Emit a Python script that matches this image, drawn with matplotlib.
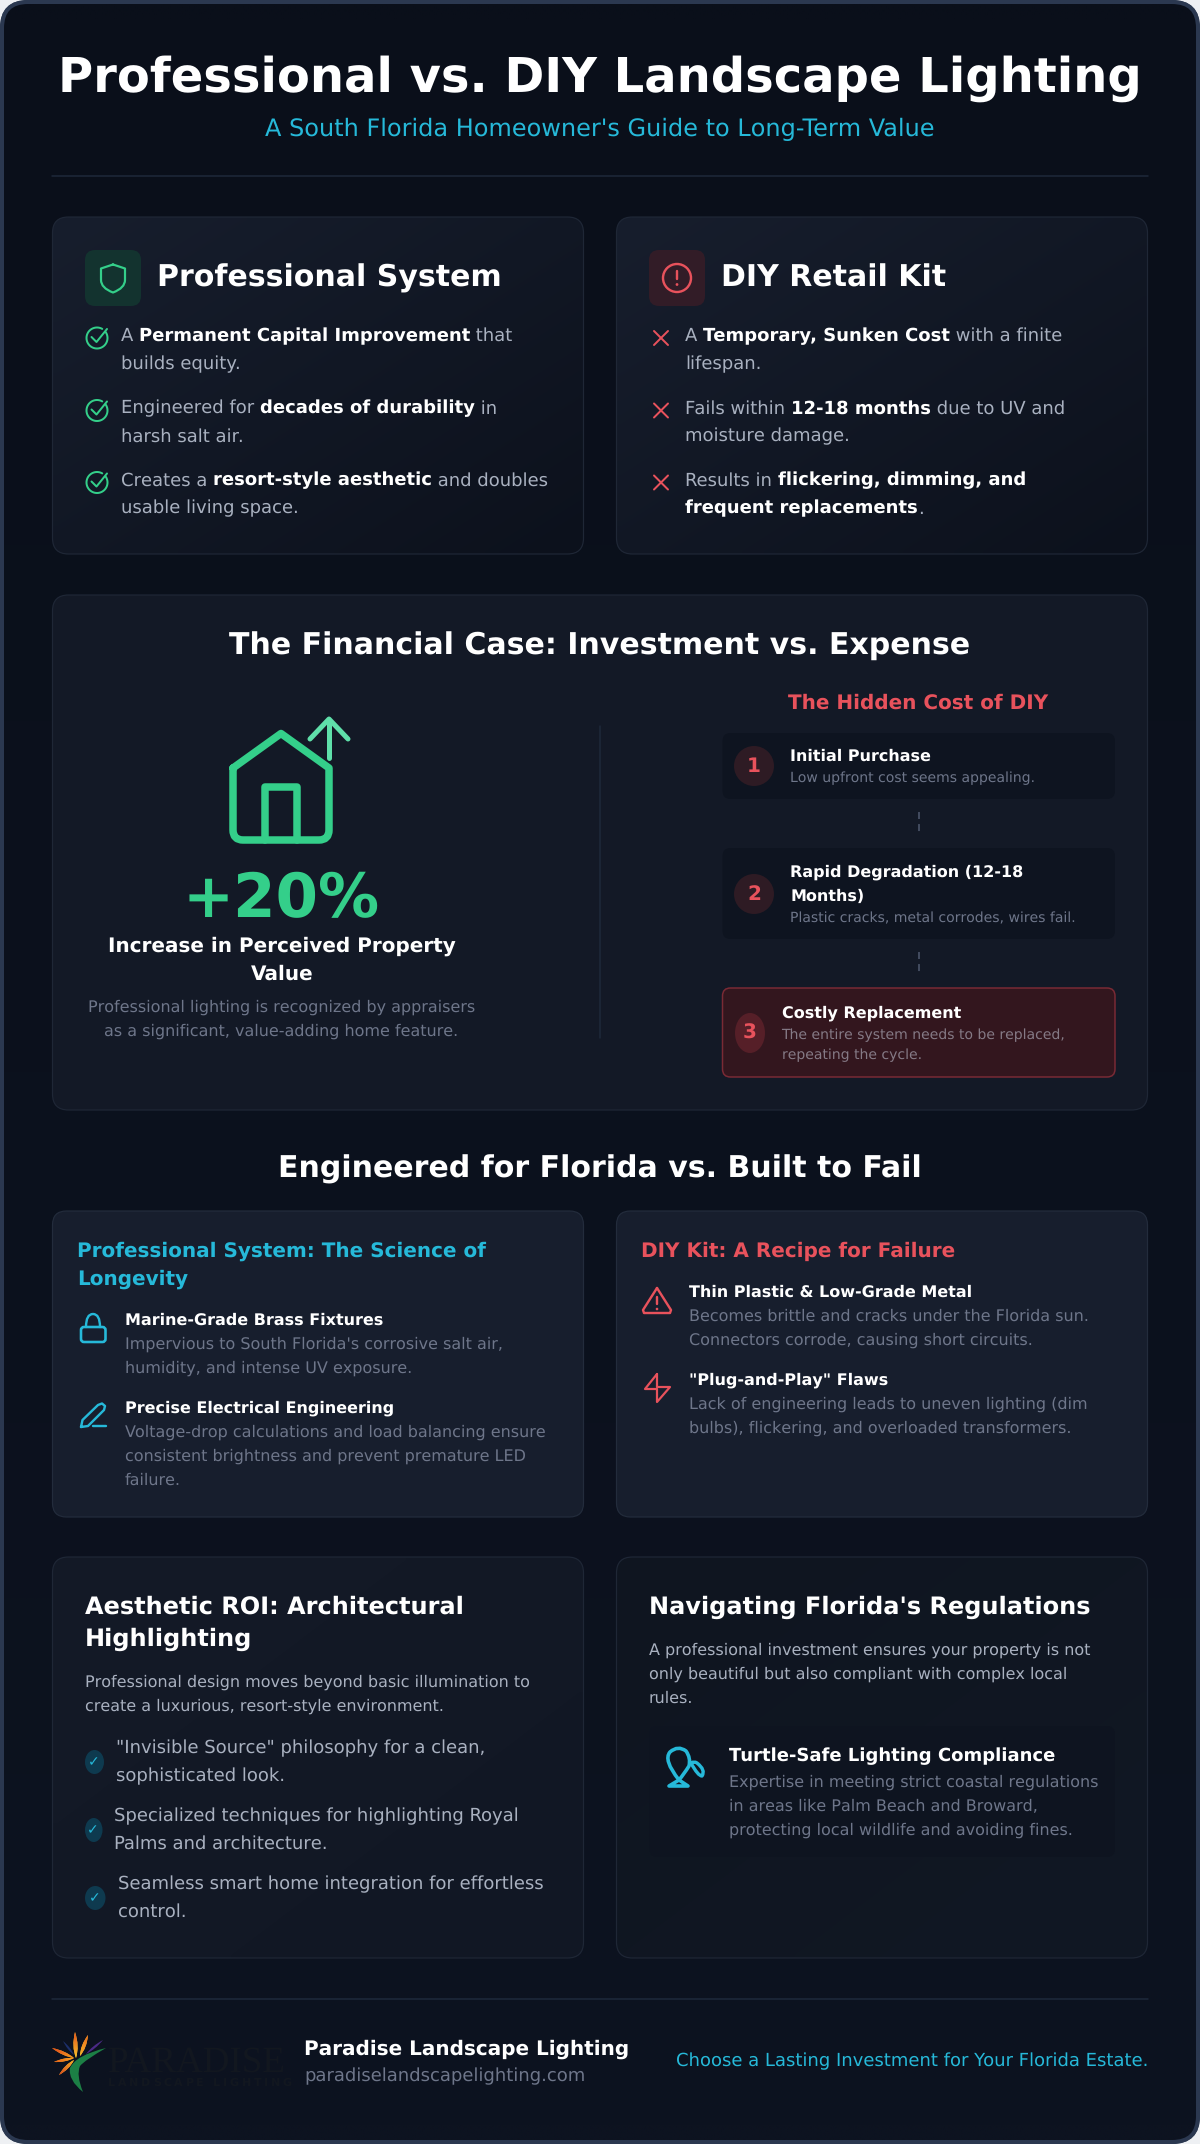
import numpy as np
import matplotlib
matplotlib.use('Agg')
import matplotlib.pyplot as plt
from matplotlib.patches import FancyBboxPatch, Circle, Ellipse, PathPatch
from matplotlib.path import Path

plt.rcParams['font.family'] = ['DejaVu Sans']
plt.rcParams['text.hinting'] = 'no_hinting'
plt.rcParams['text.hinting_factor'] = 1

# Text content
title = "Professional vs. DIY Landscape Lighting"
subtitle = "A South Florida Homeowner's Guide to Long-Term Value"
pro_heading = "Professional System"
diy_heading = "DIY Retail Kit"
pro_list = [
    [[("A ", 0), ("Permanent Capital Improvement", 1), (" that", 0)], [("builds equity.", 0)]],
    [[("Engineered for ", 0), ("decades of durability", 1), (" in", 0)], [("harsh salt air.", 0)]],
    [[("Creates a ", 0), ("resort-style aesthetic", 1), (" and doubles", 0)], [("usable living space.", 0)]],
]
diy_list = [
    [[("A ", 0), ("Temporary, Sunken Cost", 1), (" with a finite", 0)], [("lifespan.", 0)]],
    [[("Fails within ", 0), ("12-18 months", 1), (" due to UV and", 0)], [("moisture damage.", 0)]],
    [[("Results in ", 0), ("flickering, dimming, and", 1)], [("frequent replacements", 1), (".", 0)]],
]
fin_heading = "The Financial Case: Investment vs. Expense"
stat_value = "+20%"
stat_label = ["Increase in Perceived Property", "Value"]
stat_desc = ["Professional lighting is recognized by appraisers", "as a significant, value-adding home feature."]
hidden_heading = "The Hidden Cost of DIY"
step_titles = [["Initial Purchase"], ["Rapid Degradation (12-18", "Months)"], ["Costly Replacement"]]
step_subs = [["Low upfront cost seems appealing."],
             ["Plastic cracks, metal corrodes, wires fail."],
             ["The entire system needs to be replaced,", "repeating the cycle."]]
eng_heading = "Engineered for Florida vs. Built to Fail"
sci_heading = ["Professional System: The Science of", "Longevity"]
sci_titles = ["Marine-Grade Brass Fixtures", "Precise Electrical Engineering"]
sci_subs = [["Impervious to South Florida's corrosive salt air,", "humidity, and intense UV exposure."],
            ["Voltage-drop calculations and load balancing ensure",
             "consistent brightness and prevent premature LED", "failure."]]
fail_heading = "DIY Kit: A Recipe for Failure"
fail_titles = ["Thin Plastic & Low-Grade Metal", '"Plug-and-Play" Flaws']
fail_subs = [["Becomes brittle and cracks under the Florida sun.", "Connectors corrode, causing short circuits."],
             ["Lack of engineering leads to uneven lighting (dim", "bulbs), flickering, and overloaded transformers."]]
roi_heading = ["Aesthetic ROI: Architectural", "Highlighting"]
roi_para = ["Professional design moves beyond basic illumination to", "create a luxurious, resort-style environment."]
roi_items = [['"Invisible Source" philosophy for a clean,', "sophisticated look."],
             ["Specialized techniques for highlighting Royal", "Palms and architecture."],
             ["Seamless smart home integration for effortless", "control."]]
reg_heading = "Navigating Florida's Regulations"
reg_para = ["A professional investment ensures your property is not",
            "only beautiful but also compliant with complex local", "rules."]
turtle_title = "Turtle-Safe Lighting Compliance"
turtle_sub = ["Expertise in meeting strict coastal regulations", "in areas like Palm Beach and Broward,",
              "protecting local wildlife and avoiding fines."]
brand_name = "Paradise Landscape Lighting"
brand_url = "paradiselandscapelighting.com"
tagline = "Choose a Lasting Investment for Your Florida Estate."

# Colours
WHITE = '#ffffff'
BODY = '#a9b1c0'
MUTED = '#6e768a'
GREEN = '#34cf8a'
RED = '#e8525c'
CYAN = '#26b9d9'
LINE = '#1e293b'
EDGE = '#1f2736'

fig = plt.figure(figsize=(12, 21.44), dpi=100, facecolor='#eef0f3')
ax = fig.add_axes([0, 0, 1, 1])
ax.set_xlim(0, 1200)
ax.set_ylim(2144, 0)
ax.axis('off')
rend = fig.canvas.get_renderer()


def txt(x, y, s, px, color, bold=False, ha='left', **kw):
    return ax.text(x, y, s, fontsize=px * 0.72, color=color, fontweight='bold' if bold else 'normal',
                   ha=ha, va='baseline', zorder=6, **kw)


def advance(s, px, bold):
    # width with trailing spaces counted
    t = txt(0, 0, s + "|", px, WHITE, bold)
    w = t.get_window_extent(rend).width
    t.set_text("|")
    w -= t.get_window_extent(rend).width
    t.remove()
    return w


def rich(x, y, segs, px):
    for s, b in segs:
        txt(x, y, s, px, WHITE if b else BODY, bool(b))
        x += advance(s, px, bool(b))


def box(x0, y0, x1, y1, r, face, edge='none', lw=1.0, z=2):
    p = FancyBboxPatch((x0, y0), x1 - x0, y1 - y0, boxstyle=f"round,pad=0,rounding_size={r}",
                       fc=face, ec=edge, lw=lw * 0.72, zorder=z)
    ax.add_patch(p)
    return p


def gradient(patch, x0, y0, x1, y1, c0, c1, z, diag=True):
    h, w = 64, 64
    yy, xx = np.mgrid[0:1:h * 1j, 0:1:w * 1j]
    f = (xx + yy) / 2 if diag else yy
    a = np.array(matplotlib.colors.to_rgb(c0))
    b = np.array(matplotlib.colors.to_rgb(c1))
    img = a[None, None, :] + (b - a)[None, None, :] * f[:, :, None]
    im = ax.imshow(img, extent=(x0, x1, y1, y0), aspect='auto', zorder=z, interpolation='bilinear')
    im.set_clip_path(patch)
    ax.set_xlim(0, 1200)
    ax.set_ylim(2144, 0)


def line(xs, ys, color, px=2.0, z=5, **kw):
    ax.plot(xs, ys, color=color, lw=px * 0.72, solid_capstyle='round', solid_joinstyle='round', zorder=z, **kw)


def curve(pts, codes, color, px=2.0, fill='none', z=5):
    ax.add_patch(PathPatch(Path(pts, codes), fc=fill, ec=color, lw=px * 0.72, capstyle='round',
                           joinstyle='round', zorder=z))


def arc(cx, cy, r, a0, a1, color, px=2.0):
    t = np.radians(np.linspace(a0, a1, 60))
    line(cx + r * np.cos(t), cy + r * np.sin(t), color, px)


def dot(cx, cy, r, color):
    ax.add_patch(Circle((cx, cy), r, fc=color, ec='none', zorder=5))


def petal(bx, by, tx, ty, w, c0, c1=None, z=5):
    nx, ny = -(ty - by), tx - bx
    n = np.hypot(nx, ny)
    nx, ny = nx / n * w, ny / n * w
    mx, my = bx + (tx - bx) * 0.45, by + (ty - by) * 0.45
    M, C = Path.MOVETO, Path.CURVE3
    shape = PathPatch(Path([(bx, by), (mx + nx, my + ny), (tx, ty), (mx - nx, my - ny), (bx, by)],
                           [M, C, C, C, C]), fc=c0, ec='none', zorder=z)
    ax.add_patch(shape)
    if c1 is not None:
        # colour runs from the petal base to its tip
        a = np.array(matplotlib.colors.to_rgb(c0))
        b = np.array(matplotlib.colors.to_rgb(c1))
        yy, xx = np.mgrid[0:1:32j, 0:1:32j]
        x0, x1 = min(bx, tx) - w, max(bx, tx) + w
        y0, y1 = min(by, ty) - w, max(by, ty) + w
        px_, py_ = x0 + xx * (x1 - x0), y0 + yy * (y1 - y0)
        t = ((px_ - bx) * (tx - bx) + (py_ - by) * (ty - by)) / ((tx - bx) ** 2 + (ty - by) ** 2)
        t = np.clip(t, 0, 1)[:, :, None]
        im = ax.imshow(a + (b - a) * t, extent=(x0, x1, y1, y0), aspect='auto', zorder=z + 0.01,
                       interpolation='bilinear')
        im.set_clip_path(shape)
        ax.set_xlim(0, 1200)
        ax.set_ylim(2144, 0)


# Outer frame
outer = box(2, 2, 1198, 2142, 26, '#0b101b', '#2b3850', 4, z=1)
gradient(outer, 2, 2, 1198, 2142, '#0a0f1a', '#0d1320', 1.1, diag=False)
box(2, 2, 1198, 2142, 26, 'none', '#2b3850', 4, z=1.2)

# Header
txt(600, 92, title, 48, WHITE, True, 'center')
txt(600, 136, subtitle, 24, CYAN, ha='center')
line([52, 1148], [176, 176], LINE, 1.5, z=2)

# Top cards
for x0, x1 in [(52.5, 583.5), (616.5, 1147.5)]:
    p = box(x0, 217, x1, 554, 16, '#141a28')
    gradient(p, x0, 217, x1, 554, '#171e2d', '#0c111c', 2.1)
    box(x0, 217, x1, 554, 16, 'none', EDGE, 1.2, z=2.2)

box(85, 250, 141, 306, 10, '#13332f', z=3)
txt(157, 287, pro_heading, 30, WHITE, True)
M, L, C = Path.MOVETO, Path.LINETO, Path.CURVE3
curve([(113, 264.5), (125, 268.5), (125, 280), (125, 288), (113, 292.5), (101, 288), (101, 280), (101, 268.5), (113, 264.5)],
      [M, L, L, C, C, C, C, L, L], GREEN, 2.2)

box(649, 250, 705, 306, 10, '#321c27', z=3)
txt(721, 287, diy_heading, 30, WHITE, True)
ax.add_patch(Circle((677, 278), 14, fc='none', ec=RED, lw=2.4 * 0.72, zorder=5))
line([677, 677], [271, 279], RED, 2.4)
dot(677, 284.5, 1.4, RED)

ys = [341, 413.5, 485.5]
for i, base in enumerate(ys):
    for j, segs in enumerate(pro_list[i]):
        rich(121, base + 28 * j, segs, 18)
    for j, segs in enumerate(diy_list[i]):
        rich(685, base + 28 * j, segs, 18)
    cy = base - 3
    arc(97, cy, 10.5, -35, 300, GREEN, 2)
    line([91.5, 96.5, 107], [cy - 1, cy + 4, cy - 9], GREEN, 2)
    line([654, 668], [cy - 7, cy + 7], RED, 2)
    line([668, 654], [cy - 7, cy + 7], RED, 2)

# Financial card
box(52.5, 595, 1147.5, 1110, 16, '#131926', EDGE, 1.2)
txt(600, 655, fin_heading, 30, WHITE, True, 'center')
curve([(233, 768), (281, 733.5), (329, 768), (329, 830), (329, 840), (319, 840), (243, 840), (233, 840), (233, 830), (233, 768)],
      [M, L, L, L, C, C, L, C, C, L], GREEN, 7.5)
line([265, 265, 297, 297], [840, 787, 787, 840], GREEN, 7.5)
line([329, 329], [721, 757.5], '#5fe0aa', 5)
line([310, 329, 348], [739, 719, 739], '#5fe0aa', 5)
txt(281.5, 917, stat_value, 61.4, GREEN, True, 'center')
txt(282, 952, stat_label[0], 20, WHITE, True, 'center')
txt(282, 980, stat_label[1], 20, WHITE, True, 'center')
txt(281.5, 1012, stat_desc[0], 16, MUTED, ha='center')
txt(281.5, 1036, stat_desc[1], 16, MUTED, ha='center')
line([600, 600], [726, 1038], LINE, 1.5, z=3)

txt(918.5, 709, hidden_heading, 20, RED, True, 'center')
box(722.5, 733, 1115, 799, 8, '#0e1420', z=3)
box(722.5, 848, 1115, 939, 8, '#0e1420', z=3)
box(722.5, 988, 1115, 1077, 8, '#33161e', '#7a2a35', 1.5, z=3)
for d0 in (812, 952):
    ax.plot([919, 919], [d0, d0 + 24], color='#434c60', lw=1.4, ls=(0, (3.6, 2.6)), zorder=4)
step_x = [790.5, 790.5, 781.5]
step_ty = [[761], [877, 901], [1018]]
step_sy = [[782], [922], [1039, 1059]]
ax.add_patch(Ellipse((754, 766), 40, 40, fc='#2e1b24', zorder=4))
ax.add_patch(Ellipse((754, 894), 40, 40, fc='#2e1b24', zorder=4))
ax.add_patch(Ellipse((750, 1033), 30, 40, fc='#561f28', zorder=4))
txt(754, 772, "1", 20, RED, True, 'center')
txt(754, 900, "2", 20, RED, True, 'center')
txt(750, 1039, "3", 20, RED, True, 'center')
for i in range(3):
    for s, y in zip(step_titles[i], step_ty[i]):
        txt(step_x[i], y, s, 16, WHITE, True)
    for s, y in zip(step_subs[i], step_sy[i]):
        txt(step_x[i], y, s, 14, MUTED if i < 2 else '#857a86')

# Engineering section
txt(600, 1178, eng_heading, 30, WHITE, True, 'center')
box(52.5, 1211, 583.5, 1517, 14, '#171e2d', '#232c3c', 1.2)
box(616.5, 1211, 1147.5, 1517, 14, '#171e2d', '#232c3c', 1.2)
txt(77, 1257, sci_heading[0], 20, CYAN, True)
txt(77, 1285, sci_heading[1], 20, CYAN, True)
txt(641, 1257, fail_heading, 20, RED, True)

txt(125, 1325, sci_titles[0], 16, WHITE, True)
for j, s in enumerate(sci_subs[0]):
    txt(125, 1349 + 24 * j, s, 16, MUTED)
txt(125, 1413, sci_titles[1], 16, WHITE, True)
for j, s in enumerate(sci_subs[1]):
    txt(125, 1437 + 24 * j, s, 16, MUTED)
txt(689, 1297, fail_titles[0], 16, WHITE, True)
for j, s in enumerate(fail_subs[0]):
    txt(689, 1321 + 24 * j, s, 16, MUTED)
txt(689, 1385, fail_titles[1], 16, WHITE, True)
for j, s in enumerate(fail_subs[1]):
    txt(689, 1409 + 24 * j, s, 16, MUTED)

# lock icon
box(81, 1327, 105.5, 1342, 3, 'none', CYAN, 2.6, z=5)
curve([(86, 1327), (86, 1314), (93, 1314), (100, 1314), (100, 1327)], [M, C, C, C, C], CYAN, 2.4)
# pen icon
line([81, 82.5, 98, 102, 105, 104, 88, 81], [1427, 1420, 1405, 1403.5, 1406, 1410, 1426, 1427], CYAN, 2.4)
line([93, 105.5], [1426, 1426], CYAN, 2.4)
# warning icon
line([657, 643, 644, 670, 671, 657], [1288, 1310, 1313, 1313, 1310, 1288], RED, 2.4)
line([657, 657], [1297, 1304], RED, 2.4)
dot(657, 1309, 1.3, RED)
# bolt icon
line([657, 645, 657, 657, 670, 657, 657], [1374, 1389, 1389, 1402, 1387, 1387, 1374], RED, 2.2)

# Bottom cards
p = box(52.5, 1557, 583.5, 1958, 16, '#131a28')
gradient(p, 52.5, 1557, 583.5, 1958, '#141a27', '#111724', 2.1)
box(52.5, 1557, 583.5, 1958, 16, 'none', EDGE, 1.2, z=2.2)
p = box(616.5, 1557, 1147.5, 1958, 16, '#101724')
gradient(p, 616.5, 1557, 1147.5, 1958, '#0f1520', '#111824', 2.1)
box(616.5, 1557, 1147.5, 1958, 16, 'none', EDGE, 1.2, z=2.2)

txt(85, 1614, roi_heading[0], 24, WHITE, True)
txt(85, 1646, roi_heading[1], 24, WHITE, True)
for j, s in enumerate(roi_para):
    txt(85, 1687 + 24 * j, s, 15.5, BODY)
roi_x = [116, 114, 118]
roi_y = [1753, 1821, 1889]
roi_w = [19, 17.5, 20.5]
for i in range(3):
    cx = 85 + roi_w[i] / 2
    cy = roi_y[i] + 9
    ax.add_patch(Ellipse((cx, cy), roi_w[i], 24, fc='#0e3a4f', zorder=4))
    txt(cx - 0.5, cy + 4.5, "\u2713", 14, CYAN, ha='center')
    for j, s in enumerate(roi_items[i]):
        txt(roi_x[i], roi_y[i] + 28 * j, s, 18, BODY)

txt(649, 1614, reg_heading, 24, WHITE, True)
for j, s in enumerate(reg_para):
    txt(649, 1655 + 24 * j, s, 16, BODY)
box(649.5, 1726, 1115, 1857, 8, '#0e1420', z=3)
# turtle icon
curve([(679, 1780), (663, 1760), (670, 1752), (678, 1745), (686, 1751), (691, 1758), (689, 1766), (684, 1774), (679, 1780)],
      [M, C, C, C, C, C, C, C, C], CYAN, 3.6)
curve([(691, 1763), (698, 1776), (702, 1776), (706, 1770), (697, 1763), (694, 1761), (691, 1763)],
      [M, C, C, C, C, C, C], CYAN, 3.4)
curve([(679, 1780), (669, 1786), (688, 1786), (679, 1780)], [M, L, L, L], CYAN, 3.6)
txt(729, 1761, turtle_title, 18, WHITE, True)
for j, s in enumerate(turtle_sub):
    txt(729, 1787 + 24 * j, s, 16, MUTED)

# Footer
line([52, 1148], [1999, 1999], LINE, 1.5, z=2)
petal(74, 2058, 52, 2048, 3.2, '#f5a020', '#e2451c')
petal(74, 2058, 54, 2062, 2.8, '#f5a020', '#e8601c')
petal(74, 2060, 59, 2075, 3.4, '#f7b52a', '#d9481c')
petal(74, 2055, 63, 2041, 2.2, '#1c2f6a', z=4.5)
petal(76, 2058, 75, 2032, 4.2, '#f7c02c', '#e5521c')
petal(80, 2056, 88, 2035, 3.6, '#f7b52a', '#ea6a1c')
petal(86, 2054, 103, 2040, 2.4, '#4b2a86', z=4.5)
ax.add_patch(PathPatch(Path([(106, 2048), (76, 2055), (70, 2068), (68, 2080), (83, 2092), (76, 2075),
                             (80, 2066), (85, 2060), (106, 2048)],
                            [M, C, C, C, C, C, C, C, C]), fc='#1c7f45', ec='none', zorder=5.2))
ax.text(108, 2072, "PARADISE", fontsize=37 * 0.72, family='Liberation Serif', color='#12171f', zorder=6)
lx = 108
logo_sub = "LANDSCAPE LIGHTING"
for ch in logo_sub:
    txt(lx, 2086, ch, 11, '#12171f', True)
    lx += advance(ch, 11, True) + 2.75
txt(304, 2055, brand_name, 20, WHITE, True)
txt(304, 2081, brand_url, 18, MUTED)
txt(1148, 2066, tagline, 18, CYAN, ha='right')

fig.savefig('out.png', dpi=100, facecolor=fig.get_facecolor())
